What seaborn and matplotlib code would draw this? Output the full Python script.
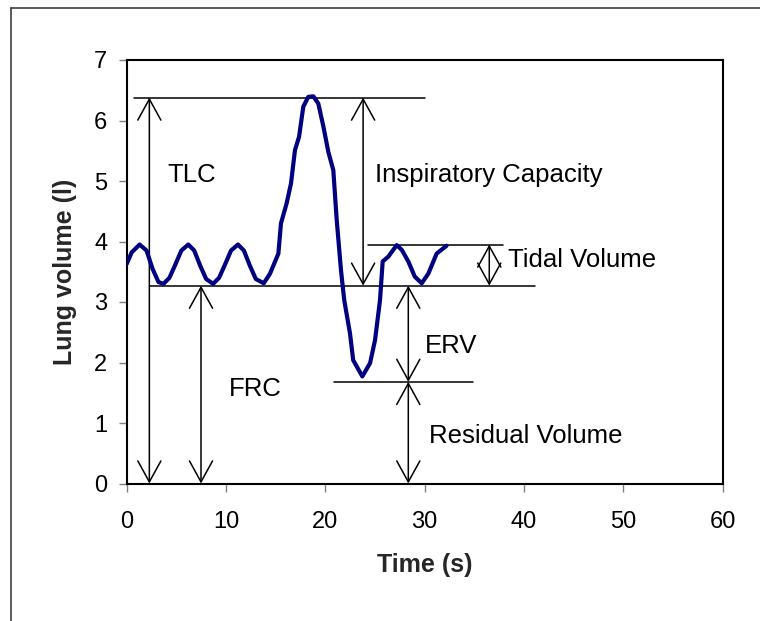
import matplotlib
matplotlib.use("Agg")
import matplotlib.pyplot as plt
from matplotlib.patches import ArrowStyle
from matplotlib.lines import Line2D
import pandas as pd
import seaborn as sns

# Spirometer trace: time (s) and lung volume (l)
time_s = [0.0, 0.5, 1.3, 2.0, 2.6, 3.2, 3.7, 4.3, 4.9, 5.5, 6.2, 6.8, 7.4, 8.0,
          8.7, 9.3, 9.9, 10.5, 11.2, 11.8, 12.4, 13.0, 13.8, 14.43, 15.27, 15.53,
          16.1, 16.54, 16.94, 17.35, 17.78, 18.28, 18.79, 19.29, 19.8, 20.3, 20.8,
          21.14, 21.57, 21.9, 22.48, 22.8, 23.72, 24.5, 25.0, 25.5, 25.77, 26.34,
          27.18, 27.7, 28.35, 29.0, 29.7, 30.37, 31.2, 32.2]
volume_l = [3.63, 3.82, 3.95, 3.85, 3.55, 3.33, 3.30, 3.40, 3.62, 3.85, 3.95, 3.85,
            3.60, 3.38, 3.30, 3.40, 3.62, 3.85, 3.95, 3.85, 3.60, 3.38, 3.31, 3.47,
            3.80, 4.30, 4.63, 4.96, 5.51, 5.73, 6.23, 6.39, 6.40, 6.28, 5.90, 5.48,
            5.18, 4.36, 3.53, 3.03, 2.48, 2.04, 1.77, 1.99, 2.37, 3.03, 3.67, 3.75,
            3.94, 3.86, 3.67, 3.42, 3.31, 3.47, 3.80, 3.93]

# Lung volume levels (l)
tlc_level = 6.38
tidal_top = 3.95
frc_level = 3.27
rv_level = 1.68

x_ticks = [0, 10, 20, 30, 40, 50, 60]
y_ticks = [0, 1, 2, 3, 4, 5, 6, 7]

df = pd.DataFrame({"Time (s)": time_s, "Lung volume (l)": volume_l})

sns.set_theme(style="white")
plt.rcParams["font.family"] = ["Liberation Sans", "DejaVu Sans"]

fig = plt.figure(figsize=(7.6, 6.21), dpi=100)
ax = fig.add_axes([126.7 / 760, 1 - 483.5 / 621, (722.7 - 126.7) / 760, (483.5 - 60) / 621])

sns.lineplot(data=df, x="Time (s)", y="Lung volume (l)", ax=ax, sort=False,
             estimator=None, color="#000080", linewidth=3.0, zorder=3)

ax.set_xlim(0, 60)
ax.set_ylim(0, 7)
ax.set_xticks(x_ticks)
ax.set_yticks(y_ticks)
ax.tick_params(axis="both", direction="out", length=6, width=1, color="#808080",
               labelsize=17, labelcolor="black", bottom=True, left=True)
ax.tick_params(axis="x", pad=14)
ax.tick_params(axis="y", pad=8)
for sp in ax.spines.values():
    sp.set_color("black")
    sp.set_linewidth(1.5)

ax.set_xlabel("Time (s)", fontsize=18, fontweight="bold", labelpad=14)
ax.set_ylabel("Lung volume (l)", fontsize=18, fontweight="bold", labelpad=12)

line_kw = dict(color="black", linewidth=1.1, zorder=2)
# Reference levels
ax.plot([0.7, 30.0], [tlc_level, tlc_level], **line_kw)
ax.plot([2.3, 41.1], [frc_level, frc_level], **line_kw)
ax.plot([24.3, 37.9], [tidal_top, tidal_top], **line_kw)
ax.plot([20.9, 34.9], [rv_level, rv_level], **line_kw)

arrow = ArrowStyle("<->", head_length=0.4, head_width=0.22)


def span(x, y0, y1):
    ax.annotate("", xy=(x, y1), xytext=(x, y0),
                arrowprops=dict(arrowstyle=arrow, color="black", lw=1.1,
                                shrinkA=0, shrinkB=0, mutation_scale=37.8),
                zorder=2)


span(2.28, 0, tlc_level)          # TLC
span(7.48, 0, frc_level)          # FRC
span(23.8, frc_level, tlc_level)  # inspiratory capacity
span(36.5, frc_level, tidal_top)  # tidal volume
span(28.35, rv_level, frc_level)  # ERV
span(28.35, 0, rv_level)          # residual volume

txt_kw = dict(fontsize=18.5, color="black", va="center", ha="left")
ax.text(4.1, 5.1, "TLC", **txt_kw)
ax.text(25.0, 5.1, "Inspiratory Capacity", **txt_kw)
ax.text(38.4, 3.69, "Tidal Volume", **txt_kw)
ax.text(30.0, 2.27, "ERV", **txt_kw)
ax.text(10.3, 1.57, "FRC", **txt_kw)
ax.text(30.4, 0.79, "Residual Volume", **txt_kw)

# Outer frame (left and top edges)
frame_kw = dict(transform=fig.transFigure, color="#404040", linewidth=1.2)
fig.add_artist(Line2D([11 / 760, 11 / 760], [0, 1 - 7.5 / 621], **frame_kw))
fig.add_artist(Line2D([11 / 760, 1], [1 - 7.5 / 621, 1 - 7.5 / 621], **frame_kw))

fig.savefig("out.png", dpi=100)
